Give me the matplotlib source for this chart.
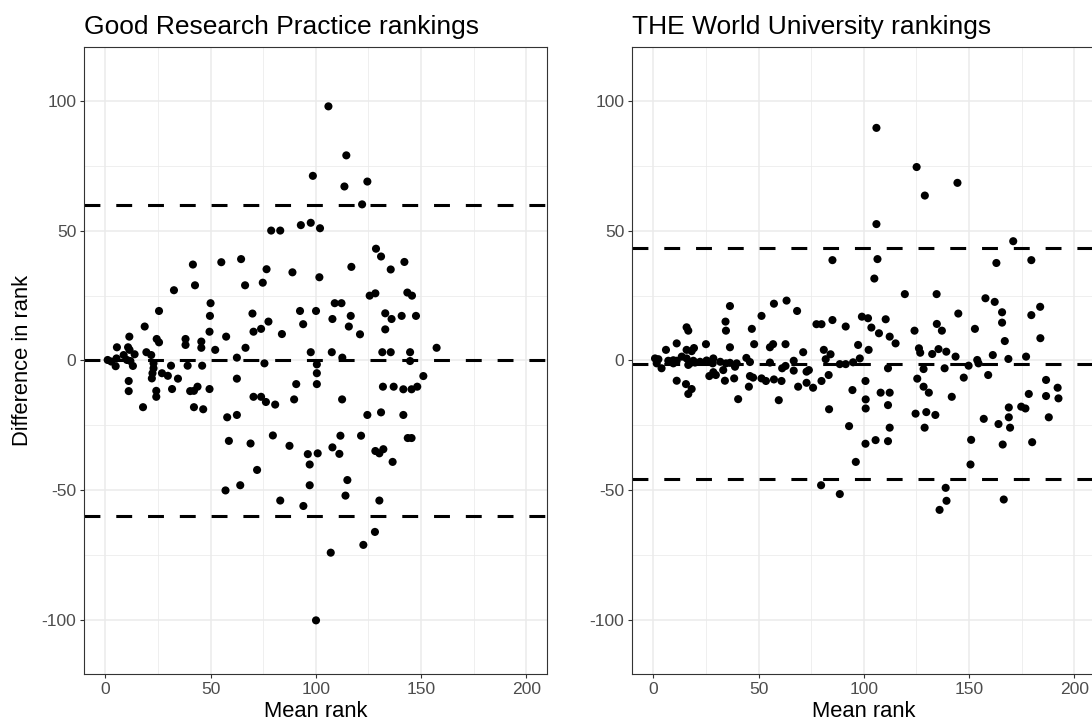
import matplotlib
matplotlib.use("Agg")
import matplotlib.pyplot as plt
import numpy as np

# ---------------- data ----------------
grp_mean = [106.0, 98.6, 114.5, 113.6, 124.5, 122.0,
            78.8, 83.1, 92.9, 97.6, 102.0,
            41.6, 55.1, 64.5, 76.6, 88.9, 101.7,
            32.6, 42.6, 66.4, 74.8,
            25.5, 50.0, 49.7, 69.9, 92.5, 100.1,
            18.7, 77.5, 94.0,
            49.5, 70.4, 74.0, 83.9,
            11.4, 24.4, 25.5, 38.1, 38.1, 45.6, 45.6, 57.4,
            128.6, 131.0, 142.1, 135.6, 116.9,
            125.6, 128.3, 143.5, 145.7,
            109.0, 112.2,
            107.9, 116.6, 115.7, 121.0,
            133.0, 136.0, 140.8, 147.6, 133.0,
            5.5, 10.8, 11.5, 13.9, 19.5, 21.8, 52.2, 66.6, 97.6,
            1.1, 2.8, 4.9, 5.3, 8.7, 10.3, 11.9, 13.1,
            22.9, 22.9, 22.4, 22.1, 26.9, 29.7, 31.2, 34.5, 31.7, 39.1, 46.0,
            40.3, 42.1, 43.8, 49.5, 42.1, 46.5,
            11.1, 11.1, 24.2, 24.2, 17.9,
            62.5, 62.5, 75.6, 57.9, 62.5,
            70.4, 74.0, 76.3, 80.7, 90.7, 89.7,
            100.5, 100.5, 100.5,
            58.7, 69.0, 79.6, 87.5,
            107.6, 112.6, 131.6, 135.6, 144.8, 144.8, 157.4,
            112.5, 131.9, 137.0, 141.6, 145.5, 148.2, 151.1,
            124.5, 131.0, 141.6, 111.7, 121.5, 143.7, 145.5,
            107.9, 128.3, 130.2, 132.1,
            96.2, 100.9, 111.2, 97.1, 136.5,
            72.1, 64.1, 57.1, 97.1, 115.0, 114.1, 83.1, 94.1, 130.2,
            128.1, 122.6, 107.1, 100.1]
grp_diff = [98.0, 71.2, 79.1, 67.1, 69.0, 60.2,
            50.1, 50.1, 52.2, 53.1, 51.0,
            37.0, 37.9, 39.1, 35.2, 34.0, 32.1,
            27.1, 29.0, 29.0, 30.0,
            19.1, 22.1, 17.2, 18.1, 19.1, 19.1,
            13.1, 15.0, 14.0,
            11.1, 11.1, 12.2, 10.2,
            9.2, 8.3, 7.0, 8.3, 6.0, 7.3, 4.9, 9.2,
            43.1, 40.1, 38.0, 35.1, 36.1,
            25.0, 25.9, 26.2, 25.0,
            22.1, 22.1,
            16.0, 17.2, 13.1, 10.1,
            18.2, 16.0, 17.2, 17.2, 12.0,
            5.1, 5.1, 4.1, 2.4, 3.2, 2.1, 4.1, 4.9, 3.2,
            0.2, -0.4, -2.2, 0.8, 2.1, 0.2, -0.2, -2.1,
            -1.1, -3.0, -4.9, -6.9, -4.9, -5.9, -2.0, -7.0, -11.0, -2.0, -2.0,
            -11.8, -11.7, -10.1, -11.0, -18.0, -18.8,
            -7.9, -11.8, -11.7, -14.0, -18.0,
            1.1, -7.0, -1.1, -21.9, -21.0,
            -14.0, -14.0, -16.0, -17.0, -9.1, -15.0,
            -1.5, -4.9, -9.1,
            -31.0, -32.0, -28.9, -32.9,
            3.2, 1.1, 3.2, 3.2, 3.2, -0.2, 4.9,
            -15.0, -10.1, -10.1, -11.1, -11.1, -10.1, -6.0,
            -21.0, -20.0, -21.0, -29.0, -29.0, -29.9, -29.9,
            -33.5, -34.9, -35.8, -34.2,
            -36.1, -35.8, -36.0, -40.1, -39.1,
            -42.2, -48.1, -50.1, -48.1, -46.1, -52.1, -54.0, -56.1, -54.0,
            -66.1, -71.1, -74.1, -100.2]
grp_bias = 0.0
grp_loa = [-59.8, 59.9]

the_mean = [106.0, 125.1, 129.0, 144.5, 106.0, 171.0,
            85.1, 106.5, 163.0, 179.6, 105.0,
            119.5, 134.6, 157.8, 162.2, 165.7, 165.7, 183.8, 179.6, 144.9,
            36.4, 34.3, 34.5, 51.4, 57.3, 63.3, 68.3,
            85.1, 99.1, 102.0, 110.4,
            15.8, 16.6, 46.8, 77.5, 79.9, 91.4,
            103.6, 107.2, 112.3, 115.1, 124.1, 134.7, 137.1, 152.8, 167.0, 183.9,
            6.0, 11.1, 25.0, 36.4, 47.9, 55.4, 56.9, 62.8, 71.2, 81.0, 84.2, 81.9, 97.3, 102.3,
            0.8, 2.4, 1.6, 3.9, 7.1, 9.5, 13.5, 15.8, 18.2, 19.3, 16.6, 19.8,
            7.9, 9.5, 11.1, 15.8, 17.4, 19.0,
            22.2, 25.3, 28.5, 28.2, 31.8, 33.2, 34.5, 36.4, 38.8, 39.6, 44.2, 45.9,
            55.4,
            26.6, 28.5, 29.7, 34.0, 38.4,
            11.1, 15.5, 18.2, 16.6,
            40.3, 45.4, 45.9, 47.4, 51.4, 53.5, 57.3, 60.9,
            61.2, 62.8, 66.7, 66.7, 59.6, 68.8, 72.8, 73.9, 72.8, 75.9, 79.9, 83.3, 83.5,
            88.6, 91.4, 94.9, 94.6, 93.0, 98.1,
            111.5, 126.2, 126.8, 132.5, 135.5, 139.2, 143.6,
            128.4, 138.4, 149.8, 153.9, 154.5, 161.3, 168.7, 177.1,
            147.5, 159.1, 125.4, 128.4, 130.9, 141.8,
            100.8, 100.9, 100.9, 108.0, 112.3, 111.5,
            124.6, 129.7, 134.0, 112.3, 128.9,
            100.8, 105.6, 111.5, 151.0, 166.0, 180.0,
            186.6, 192.1, 192.5, 186.6, 178.4, 187.9,
            168.9, 168.9, 169.5, 174.8, 176.8, 164.0, 157.0,
            96.2, 79.7, 88.6, 138.9, 139.3, 136.0, 150.7, 166.5]
the_diff = [89.7, 74.6, 63.6, 68.5, 52.6, 46.0,
            38.7, 39.1, 37.6, 38.7, 31.6,
            25.6, 25.6, 24.0, 22.6, 18.6, 14.6, 20.7, 17.5, 18.1,
            21.0, 15.0, 11.5, 17.2, 21.9, 23.1, 19.1,
            15.6, 16.9, 16.3, 15.9,
            12.8, 11.5, 12.2, 14.0, 14.0, 13.1,
            12.7, 10.5, 9.2, 6.6, 11.5, 14.1, 11.5, 12.2, 7.5, 8.6,
            4.1, 6.6, 6.3, 5.1, 6.3, 5.1, 6.3, 6.3, 3.2, 4.1, 2.4, 0.5, 6.0, 4.1,
            0.8, 0.5, -1.1, -3.0, -0.1, 0.1, 1.5, 4.1, 3.6, 4.8, -1.7, -0.8,
            -0.5, -1.1, -0.1, 0.8, -1.1, -0.1,
            -0.5, 0.0, 0.8, -1.1, -0.5, -3.7, -1.1, -0.9, -2.4, -1.1, 1.0, -0.6,
            -0.8,
            -6.0, -4.5, -5.6, -7.8, -6.9,
            -7.8, -9.1, -11.0, -12.9,
            -14.9, -10.1, -6.0, -6.6, -6.9, -7.9, -7.3, -7.9,
            -3.0, -2.1, -0.1, -3.9, -15.3, -10.1, -4.3, -3.7, -8.6, -10.5, -7.9, -5.6, -18.8,
            -1.4, -1.4, -0.7, -11.4, -25.3, 0.8,
            -3.0, 4.7, 3.0, 2.5, 4.4, 3.4, 1.5,
            -3.3, -3.0, -2.0, 0.2, -1.1, 2.1, 0.6, 1.5,
            -6.6, -5.6, -7.0, -10.1, -12.4, -14.0,
            -7.9, -15.0, -18.5, -12.4, -12.4, -17.2,
            -20.5, -19.9, -21.0, -25.9, -25.9,
            -32.1, -30.7, -31.1, -30.6, -32.4, -31.5,
            -7.5, -10.5, -14.6, -13.7, -12.9, -21.9,
            -18.1, -21.9, -25.9, -17.8, -18.5, -24.5, -22.5,
            -39.1, -48.1, -51.5, -49.1, -54.1, -57.6, -40.1, -53.6]
the_bias = -1.2
the_loa = [-45.7, 43.2]

titles = ["Good Research Practice rankings", "THE World University rankings"]
xticks = [0, 50, 100, 150, 200]
yticks = [-100, -50, 0, 50, 100]
ytick_labels = ["-100", "-50", "0", "50", "100"]

# ---------------- plot ----------------
plt.rcParams['font.family'] = ['Liberation Sans', 'DejaVu Sans']
W, H = 1092, 727
fig = plt.figure(figsize=(W / 100, H / 100), dpi=100)

ax_w = 463 / W
ax_h = (674.3 - 46.7) / H
bottom = 1 - 674.3 / H
axes = [fig.add_axes([84.3 / W, bottom, ax_w, ax_h]),
        fig.add_axes([632.3 / W, bottom, ax_w, ax_h])]

panels = [(grp_mean, grp_diff, grp_bias, grp_loa),
          (the_mean, the_diff, the_bias, the_loa)]

lw_dash = 2.2
for ax, (mx, dy, bias, loa), title in zip(axes, panels, titles):
    ax.set_xlim(-10, 210)
    ax.set_ylim(-121, 121)
    ax.set_xticks(xticks)
    ax.set_xticks([25, 75, 125, 175], minor=True)
    ax.set_yticks(yticks)
    ax.set_yticklabels(ytick_labels)
    ax.set_yticks([-75, -25, 25, 75], minor=True)
    ax.grid(which='major', color='#EBEBEB', linewidth=1.1)
    ax.grid(which='minor', color='#EBEBEB', linewidth=0.55)
    ax.set_axisbelow(True)
    for s in ax.spines.values():
        s.set_color('#333333')
        s.set_linewidth(0.8)
    ax.tick_params(which='major', length=3.2, width=0.8, color='#333333',
                   labelsize=12.6, labelcolor='#4D4D4D', pad=2.5)
    ax.tick_params(which='minor', length=0)
    ax.scatter(mx, dy, s=34, color='black', edgecolors='none', zorder=3)
    for yv in [bias] + list(loa):
        ax.axhline(yv, color='black', linewidth=lw_dash,
                   linestyle=(0, (5.2, 5.2)), zorder=2)
    ax.set_xlabel("Mean rank", fontsize=15.8, labelpad=3)
    ax.set_title(title, loc='left', fontsize=19, pad=9)

axes[0].set_ylabel("Difference in rank", fontsize=15.8, labelpad=6)

fig.savefig("out.png", dpi=100)
